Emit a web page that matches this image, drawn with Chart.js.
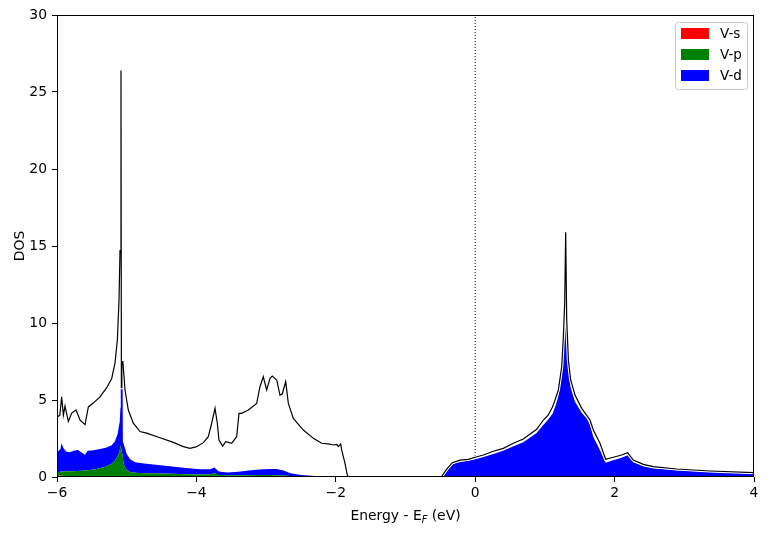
<!DOCTYPE html>
<html><head><meta charset="utf-8">
<script src="https://cdn.jsdelivr.net/npm/chart.js@4.4.1/dist/chart.umd.min.js"></script>
<style>html,body{margin:0;padding:0;background:#fff;} #wrap{width:768px;height:534px;}</style>
</head><body><div id="wrap"><canvas id="c" width="768" height="534"></canvas></div>
<script>
// Projected DOS (individual contributions, stacked when drawn)
const pdosEnergy = [-6.00,-5.97,-5.95,-5.935,-5.91,-5.87,-5.82,-5.76,-5.70,-5.65,-5.60,-5.56,-5.50,-5.40,-5.30,-5.22,-5.17,-5.13,-5.10,-5.09,-5.085,-5.06,-5.055,-5.04,-5.00,-4.95,-4.88,-4.75,-4.55,-4.35,-4.15,-3.95,-3.80,-3.74,-3.68,-3.55,-3.40,-3.25,-3.10,-2.95,-2.85,-2.75,-2.65,-2.50,-2.30,-2.10,-1.90,-1.83,-0.51,-0.47,-0.40,-0.33,-0.22,-0.10,0.00,0.12,0.26,0.40,0.55,0.69,0.83,0.88,0.98,1.05,1.11,1.15,1.19,1.24,1.265,1.284,1.298,1.313,1.337,1.37,1.43,1.53,1.60,1.647,1.695,1.79,1.872,1.98,2.10,2.187,2.268,2.41,2.555,2.89,3.37,4.00];
const dosS = [0.08,0.08,0.08,0.08,0.08,0.07,0.07,0.07,0.07,0.07,0.06,0.06,0.06,0.06,0.05,0.05,0.05,0.05,0.05,0.05,0.05,0.05,0.05,0.04,0.04,0.04,0.04,0.03,0.03,0.03,0.02,0.02,0.02,0.02,0.02,0.02,0.02,0.01,0.01,0.01,0.01,0.01,0.01,0.01,0,0,0,0,0,0,0,0,0,0,0,0,0,0,0,0,0,0,0,0,0,0,0,0,0,0,0,0,0,0,0,0,0,0,0,0,0,0,0,0,0,0,0,0,0,0];
const dosP = [0.24,0.25,0.26,0.27,0.27,0.29,0.30,0.31,0.32,0.33,0.36,0.38,0.41,0.49,0.63,0.80,1.00,1.30,1.65,2.05,1.95,1.35,1.15,0.76,0.41,0.28,0.24,0.22,0.20,0.18,0.16,0.15,0.16,0.24,0.11,0.09,0.09,0.11,0.12,0.12,0.11,0.08,0.05,0.02,0.02,0.01,0,0,0,0.01,0.01,0.01,0.01,0.01,0.01,0.01,0.01,0.01,0.02,0.02,0.02,0.02,0.02,0.02,0.02,0.03,0.03,0.03,0.03,0.03,0.03,0.03,0.03,0.03,0.03,0.03,0.03,0.03,0.03,0.03,0.03,0.04,0.04,0.04,0.03,0.03,0.02,0.02,0.01,0.01];
const dosD = [1.23,1.42,1.46,1.85,1.55,1.29,1.23,1.32,1.36,1.20,1.03,1.26,1.25,1.25,1.22,1.20,1.25,1.45,1.90,2.40,5.50,6.10,1.10,1.30,1.05,0.83,0.67,0.63,0.55,0.47,0.40,0.33,0.32,0.36,0.23,0.19,0.23,0.30,0.35,0.39,0.40,0.33,0.19,0.10,0.05,0.03,0.02,0,0,0.09,0.49,0.84,0.97,1.04,1.14,1.29,1.49,1.69,1.98,2.23,2.68,2.83,3.38,3.73,4.08,4.57,5.17,6.57,8.37,10.27,13.17,9.37,6.97,5.77,4.87,4.12,3.77,3.37,2.57,1.72,0.90,1.04,1.21,1.38,0.92,0.67,0.55,0.42,0.31,0.21];
// Total DOS
const totalEnergy = [-6.00,-5.96,-5.933,-5.909,-5.885,-5.837,-5.789,-5.727,-5.670,-5.598,-5.550,-5.479,-5.383,-5.287,-5.215,-5.168,-5.134,-5.110,-5.096,-5.082,-5.076,-5.070,-5.055,-5.024,-4.977,-4.905,-4.809,-4.713,-4.522,-4.331,-4.188,-4.092,-3.996,-3.901,-3.829,-3.781,-3.733,-3.700,-3.676,-3.623,-3.580,-3.494,-3.422,-3.389,-3.350,-3.255,-3.135,-3.088,-3.040,-2.992,-2.944,-2.911,-2.848,-2.801,-2.768,-2.719,-2.681,-2.609,-2.466,-2.322,-2.202,-2.083,-2.036,-1.987,-1.964,-1.930,-1.915,-1.868,-1.835,-1.82,-0.50,-0.481,-0.400,-0.328,-0.218,-0.098,0.000,0.117,0.260,0.404,0.547,0.690,0.834,0.882,0.978,1.049,1.112,1.145,1.193,1.241,1.265,1.284,1.298,1.313,1.337,1.370,1.432,1.528,1.647,1.695,1.790,1.872,1.981,2.101,2.187,2.268,2.412,2.555,2.890,3.369,4.000];
const dosTotal = [3.9,4.0,5.2,4.0,4.6,3.6,4.15,4.35,3.7,3.4,4.55,4.8,5.2,5.8,6.4,7.4,8.9,11.5,14.7,26.4,5.8,7.5,7.5,5.65,4.35,3.5,2.95,2.85,2.55,2.25,1.97,1.86,1.97,2.23,2.62,3.49,4.46,3.49,2.40,2.01,2.29,2.19,2.62,4.13,4.13,4.35,4.78,5.86,6.51,5.65,6.41,6.56,6.30,5.32,5.39,6.19,4.78,3.81,3.05,2.51,2.19,2.14,2.08,2.12,1.97,2.14,1.75,0.89,0.13,0,0,0.05,0.56,0.93,1.10,1.15,1.28,1.43,1.67,1.86,2.19,2.47,2.94,3.10,3.70,4.03,4.57,5.00,5.65,7.16,9.11,11.3,15.9,10.2,7.6,6.3,5.32,4.46,3.70,3.05,2.19,1.15,1.28,1.43,1.58,1.10,0.82,0.67,0.52,0.39,0.28];
// Fermi level marker
const fermiEnergy = [0, 0];
const fermiDos = [0, 30];
// Axes
const xTicks = [-6, -4, -2, 0, 2, 4];
const yTicks = [0, 5, 10, 15, 20, 25, 30];
const seriesLabels = ['V-s', 'V-p', 'V-d'];
const seriesColors = ['#ff0000', '#008000', '#0000ff'];

const pts = (xs, ys) => xs.map((x, i) => ({x: x, y: ys[i]}));
const FONT = 'DejaVu Sans';
Chart.defaults.font.family = FONT;
Chart.defaults.color = '#000';

const decor = {
  id: 'decor',
  afterDraw(chart) {
    const ctx = chart.ctx, a = chart.chartArea;
    ctx.save();
    // frame
    ctx.strokeStyle = '#000'; ctx.lineWidth = 1;
    const L = Math.round(a.left) + 0.5, T = Math.round(a.top) + 0.5;
    const R = Math.round(a.right) - 0.5, B = Math.round(a.bottom) - 0.5;
    ctx.strokeRect(L, T, R - L, B - T);
    // legend
    const bw = 72, bh = 67;
    const bx = a.right - 7 - bw, by = a.top + 7;
    ctx.beginPath();
    ctx.roundRect(bx + 0.5, by + 0.5, bw, bh, 3);
    ctx.fillStyle = 'rgba(255,255,255,0.8)'; ctx.fill();
    ctx.strokeStyle = '#cccccc'; ctx.lineWidth = 1; ctx.stroke();
    ctx.font = '13.5px "' + FONT + '"';
    ctx.textBaseline = 'middle'; ctx.textAlign = 'left';
    for (let i = 0; i < seriesLabels.length; i++) {
      const cy = by + 11.5 + i * 21;
      ctx.fillStyle = seriesColors[i];
      ctx.fillRect(bx + 6, cy - 5.5, 28, 11);
      ctx.fillStyle = '#000';
      ctx.fillText(seriesLabels[i], bx + 45, cy + 0.5);
    }
    // x title with subscript
    const f1 = '13.9px "' + FONT + '"', f2 = 'italic 9.7px "' + FONT + '"';
    const p1 = 'Energy - E', p2 = 'F', p3 = ' (eV)';
    ctx.font = f1; const w1 = ctx.measureText(p1).width, w3 = ctx.measureText(p3).width;
    ctx.font = f2; const w2 = ctx.measureText(p2).width;
    let x = (a.left + a.right) / 2 - (w1 + w2 + w3) / 2;
    const yb = a.bottom + 43;
    ctx.textBaseline = 'alphabetic';
    ctx.font = f1; ctx.fillText(p1, x, yb); x += w1;
    ctx.font = f2; ctx.fillText(p2, x, yb + 2.5); x += w2;
    ctx.font = f1; ctx.fillText(p3, x, yb);
    // y title
    ctx.translate(20, (a.top + a.bottom) / 2);
    ctx.rotate(-Math.PI / 2);
    ctx.textAlign = 'center'; ctx.textBaseline = 'middle';
    ctx.font = f1; ctx.fillText('DOS', 0, 0);
    ctx.restore();
  }
};

const lineBase = {pointRadius: 0, pointHoverRadius: 0, tension: 0};
new Chart(document.getElementById('c'), {
  type: 'line',
  data: {
    datasets: [
      Object.assign({label: 'Total', data: pts(totalEnergy, dosTotal), borderColor: '#000', borderWidth: 1.2, fill: false, stack: 'total'}, lineBase),
      Object.assign({label: 'outline', data: pts(totalEnergy, dosTotal), borderColor: '#fff', borderWidth: 3.2, fill: false, stack: 'outline'}, lineBase),
      Object.assign({label: seriesLabels[0], data: pts(pdosEnergy, dosS), borderColor: 'rgba(0,0,0,0)', borderWidth: 0, backgroundColor: seriesColors[0], fill: 'origin', stack: 'pdos'}, lineBase),
      Object.assign({label: seriesLabels[1], data: pts(pdosEnergy, dosP), borderColor: 'rgba(0,0,0,0)', borderWidth: 0, backgroundColor: seriesColors[1], fill: '-1', stack: 'pdos'}, lineBase),
      Object.assign({label: seriesLabels[2], data: pts(pdosEnergy, dosD), borderColor: 'rgba(0,0,0,0)', borderWidth: 0, backgroundColor: seriesColors[2], fill: '-1', stack: 'pdos'}, lineBase),
      Object.assign({label: 'EF', data: pts(fermiEnergy, fermiDos), borderColor: '#000', borderWidth: 1, borderDash: [1, 2], fill: false, stack: 'fermi'}, lineBase)
    ]
  },
  options: {
    responsive: false, animation: false, devicePixelRatio: 1,
    events: [],
    layout: {padding: {top: 15, right: 14, left: 0, bottom: 0}},
    plugins: {legend: {display: false}, tooltip: {enabled: false}},
    scales: {
      x: {
        type: 'linear', min: -6, max: 4,
        afterBuildTicks: s => { s.ticks = xTicks.map(v => ({value: v})); },
        afterFit: s => { s.height = 57; },
        ticks: {font: {size: 13.9}, color: '#000', padding: 3, maxRotation: 0, autoSkip: false,
          callback: v => String(v).replace('-', '\u2212')},
        grid: {display: true, drawOnChartArea: false, drawTicks: true, tickLength: 5, color: '#000', lineWidth: 1},
        border: {display: false}
      },
      y: {
        type: 'linear', min: 0, max: 30, stacked: true,
        afterBuildTicks: s => { s.ticks = yTicks.map(v => ({value: v})); },
        afterFit: s => { s.width = 57; },
        ticks: {font: {size: 13.9}, color: '#000', padding: 5, autoSkip: false},
        grid: {display: true, drawOnChartArea: false, drawTicks: true, tickLength: 5, color: '#000', lineWidth: 1},
        border: {display: false}
      }
    }
  },
  plugins: [decor]
});
</script>
</body></html>
